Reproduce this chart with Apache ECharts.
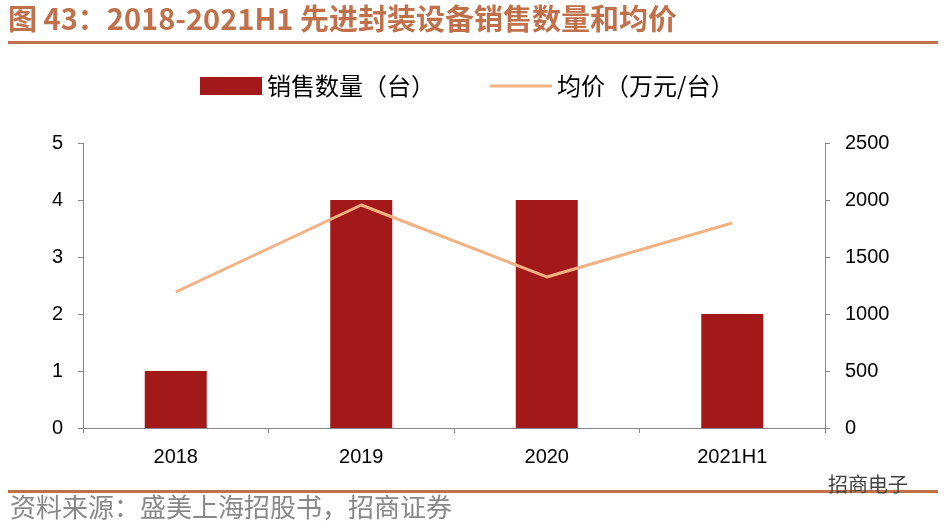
<!DOCTYPE html>
<html>
<head>
<meta charset="utf-8">
<script src="https://cdn.jsdelivr.net/npm/echarts@6/dist/echarts.min.js"></script>
<style>
html,body{margin:0;padding:0;background:#fff;}
#chart{width:950px;height:528px;}
</style>
</head>
<body>
<div id="chart"></div>
<script>
const categories = ["2018", "2019", "2020", "2021H1"];
const salesCount = [1, 4, 4, 2];
const avgPrice = [1193, 1956, 1325, 1798];

const chart = echarts.init(document.getElementById("chart"));
const font = "'Noto Sans CJK SC', sans-serif";
chart.setOption({
    textStyle: { fontFamily: font },
    graphic: [
        { type: "text", left: 8, top: 4, style: { text: "图 43：2018-2021H1 先进封装设备销售数量和均价", font: "bold 29px 'Noto Sans CJK SC'", fill: "#c0704a" } },
        { type: "rect", shape: { x: 8, y: 41, width: 930, height: 3 }, style: { fill: "#c0704a" } },
        { type: "rect", shape: { x: 8, y: 490, width: 930, height: 3 }, style: { fill: "#c0704a" } },
        { type: "text", left: 10, top: 494, style: { text: "资料来源：盛美上海招股书，招商证券", font: "26px 'Noto Sans CJK SC'", fill: "#888" } },
        { type: "text", left: 828, top: 474, style: { text: "招商电子", font: "20px 'Noto Sans CJK SC'", fill: "#444" } }
    ],
    legend: {
        top: 69,
        left: 195,
        itemGap: 55,
        itemWidth: 62,
        itemHeight: 18,
        textStyle: { fontSize: 24, color: "#000", fontFamily: font },
        data: [
            { name: "销售数量（台）", icon: "rect" },
            { name: "均价（万元/台）", icon: "path://M0,0H60V3H0Z" }
        ]
    },
    grid: { left: 83, right: 125, top: 143, bottom: 100 },
    xAxis: {
        type: "category",
        data: categories,
        axisLine: { lineStyle: { color: "#888" } },
        axisTick: { show: true, length: 5, lineStyle: { color: "#888" } },
        axisLabel: { fontSize: 20, color: "#000", margin: 19, fontFamily: "Liberation Sans" }
    },
    yAxis: [
        {
            type: "value", min: 0, max: 5, interval: 1,
            splitLine: { show: false },
            axisLine: { show: true, lineStyle: { color: "#888" } },
            axisTick: { show: true, length: 5, lineStyle: { color: "#888" } },
            axisLabel: { fontSize: 20, color: "#000", margin: 20, fontFamily: "Liberation Sans" }
        },
        {
            type: "value", min: 0, max: 2500, interval: 500,
            splitLine: { show: false },
            axisLine: { show: true, lineStyle: { color: "#888" } },
            axisTick: { show: true, length: 5, lineStyle: { color: "#888" } },
            axisLabel: { fontSize: 20, color: "#000", margin: 20, fontFamily: "Liberation Sans", formatter: v => String(v) }
        }
    ],
    series: [
        {
            name: "销售数量（台）", type: "bar", data: salesCount,
            barWidth: 62, itemStyle: { color: "#a31818" }
        },
        {
            name: "均价（万元/台）", type: "line", yAxisIndex: 1, data: avgPrice,
            symbol: "none", lineStyle: { color: "#f4b183", width: 3 },
            itemStyle: { color: "#f4b183" }
        }
    ]
});
</script>
</body>
</html>
